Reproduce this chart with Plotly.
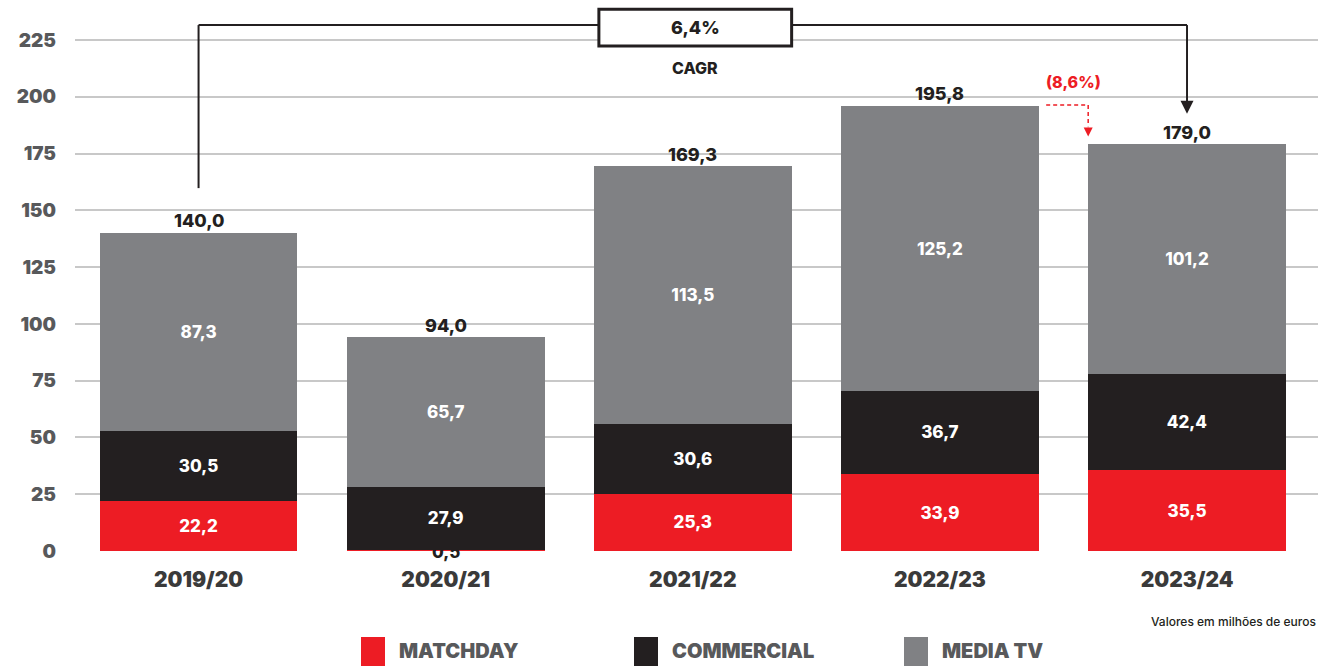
import plotly.graph_objects as go

seasons = ["2019/20", "2020/21", "2021/22", "2022/23", "2023/24"]
matchday = [22.2, 0.5, 25.3, 33.9, 35.5]
commercial = [30.5, 27.9, 30.6, 36.7, 42.4]
media_tv = [87.3, 65.7, 113.5, 125.2, 101.2]
totals = [140.0, 94.0, 169.3, 195.8, 179.0]
y_ticks = [0, 25, 50, 75, 100, 125, 150, 175, 200, 225]
cagr_label = "6,4%"
drop_label = "(8,6%)"

RED = "#ED1C24"
BLACK = "#231F20"
GRAY = "#808184"
FONT = "Inter"
HW = 800

def fmt(v):
    return f"{v:.1f}".replace(".", ",")

def f(size, color, weight=HW):
    return dict(family=FONT, size=size, color=color, weight=weight)

fig = go.Figure()
for name, vals, col in [("MATCHDAY", matchday, RED), ("COMMERCIAL", commercial, BLACK), ("MEDIA TV", media_tv, GRAY)]:
    txt = [fmt(v) if v >= 5 else "" for v in vals]
    fig.add_trace(go.Bar(
        x=seasons, y=vals, name=name, marker=dict(color=col, line=dict(width=0)),
        text=txt, textposition="inside", insidetextanchor="middle", textangle=0,
        textfont=f(17, "white"),
        constraintext="none", showlegend=False, hoverinfo="skip",
    ))

annotations = []
for s, t in zip(seasons, totals):
    annotations.append(dict(x=s, y=t, text=fmt(t), showarrow=False,
                            yanchor="bottom", yshift=0, font=f(18, BLACK)))
for s, v in zip(seasons, matchday):
    if v < 5:
        annotations.append(dict(x=s, y=v, text=fmt(v), showarrow=False,
                                yanchor="middle", yshift=-2, font=f(17, BLACK)))

# CAGR bracket
y_line = 231.6
shapes = [
    dict(type="line", xref="x", yref="y", x0=0, x1=0, y0=159.8, y1=y_line, line=dict(color=BLACK, width=2)),
    dict(type="line", xref="x", yref="y", x0=0, x1=1.62, y0=y_line, y1=y_line, line=dict(color=BLACK, width=2)),
    dict(type="line", xref="x", yref="y", x0=2.4, x1=4, y0=y_line, y1=y_line, line=dict(color=BLACK, width=2)),
    dict(type="rect", xref="x", yref="y", x0=1.62, x1=2.4, y0=222.4, y1=238.6,
         line=dict(color=BLACK, width=3), fillcolor="white"),
    dict(type="line", xref="x", yref="y", x0=4, x1=4, y0=y_line, y1=197, line=dict(color=BLACK, width=2)),
    # red dashed
    dict(type="line", xref="x", yref="y", x0=3.43, x1=3.6, y0=196.4, y1=196.4, line=dict(color=RED, width=1.5, dash="4px,3px")),
    dict(type="line", xref="x", yref="y", x0=3.6, x1=3.6, y0=196.4, y1=187, line=dict(color=RED, width=1.5, dash="4px,3px")),
]
annotations += [
    dict(x=4, y=192.6, ax=4, ay=198, xref="x", yref="y", axref="x", ayref="y", text="", showarrow=True,
         arrowhead=2, arrowsize=1.3, arrowwidth=2, arrowcolor=BLACK),
    dict(x=3.6, y=182.5, ax=3.6, ay=187, xref="x", yref="y", axref="x", ayref="y", text="", showarrow=True,
         arrowhead=2, arrowsize=1.2, arrowwidth=1.5, arrowcolor=RED),
    dict(x=2.01, y=230.5, text=cagr_label, showarrow=False, font=f(18, BLACK)),
    dict(x=2.01, y=212.5, text="CAGR", showarrow=False, font=f(16, BLACK)),
    dict(x=3.54, y=206.5, text=drop_label, showarrow=False, font=f(16, RED)),
]

# legend (manual)
W, H = 1320, 666
def px(x):
    return (x - 75) / (1318 - 75)
def py(y):
    return (551 - y) / (551 - 6)
annotations.append(dict(x=1, y=py(621), xref="paper", yref="paper", text="Valores em milhões de euros",
                        showarrow=False, xanchor="right", yanchor="middle", font=f(12, BLACK, 500)))
for lx, col, name in [(361, RED, "MATCHDAY"), (634, BLACK, "COMMERCIAL"), (904, GRAY, "MEDIA TV")]:
    shapes.append(dict(type="rect", xref="paper", yref="paper", x0=px(lx), x1=px(lx + 24), y0=py(666), y1=py(637),
                       fillcolor=col, line=dict(width=0)))
    annotations.append(dict(x=px(lx + 36), y=py(651), xref="paper", yref="paper", text=name,
                            showarrow=False, xanchor="left", yanchor="middle",
                            font=f(20, "#58595B", 900)))

fig.update_layout(
    width=W, height=H, margin=dict(l=75, r=2, t=6, b=115),
    plot_bgcolor="white", paper_bgcolor="white",
    barmode="stack", bargap=0.2,
    shapes=shapes, annotations=annotations,
    xaxis=dict(range=[-0.5, 4.53], showgrid=False, showline=False, ticks="",
               tickfont=f(21, "#3A3A3A", 900), ticklabelstandoff=14),
    yaxis=dict(range=[0, 240], tickvals=y_ticks,
               showgrid=True, gridcolor="#C8C8C8", gridwidth=2, zeroline=False, showline=False,
               tickfont=f(19, "#58595B", 900), ticklabelstandoff=18),
    showlegend=False,
)
fig.write_html("out.html", config={"displayModeBar": False},
               post_script="document.body.style.margin='0';document.body.style.overflow='hidden';")
